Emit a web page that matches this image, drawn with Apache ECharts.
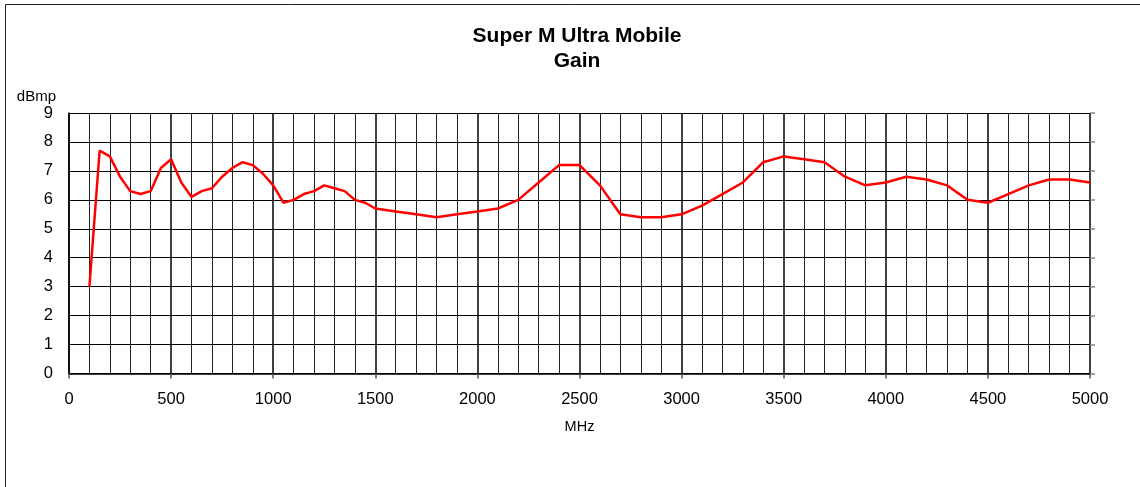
<!DOCTYPE html>
<html>
<head>
<meta charset="utf-8">
<script src="https://cdn.jsdelivr.net/npm/echarts@6/dist/echarts.min.js"></script>
<style>html,body{margin:0;padding:0;background:#fff}#c{width:1140px;height:487px}</style>
</head>
<body>
<div id="c"></div>
<script>
const titleText = 'Super M Ultra Mobile';
const subTitleText = 'Gain';
const xName = 'MHz';
const yName = 'dBmp';
const freqMHz = [100,150,200,250,300,350,400,450,500,550,600,650,700,750,800,850,900,950,1000,1050,1100,1150,1200,1250,1300,1350,1400,1450,1500,
  1600,1700,1800,1900,2000,2100,2200,2300,2400,2500,2600,2700,2800,2900,3000,3100,3200,3300,3400,3500,3600,3700,3800,3900,4000,4100,4200,4300,4400,4500,4600,4700,4800,4900,5000];
const gainDbmp = [3.0,7.7,7.5,6.8,6.3,6.2,6.3,7.1,7.4,6.6,6.1,6.3,6.4,6.8,7.1,7.3,7.2,6.9,6.5,5.9,6.0,6.2,6.3,6.5,6.4,6.3,6.0,5.9,5.7,
  5.6,5.5,5.4,5.5,5.6,5.7,6.0,6.6,7.2,7.2,6.5,5.5,5.4,5.4,5.5,5.8,6.2,6.6,7.3,7.5,7.4,7.3,6.8,6.5,6.6,6.8,6.7,6.5,6.0,5.9,6.2,6.5,6.7,6.7,6.6];

const chart = echarts.init(document.getElementById('c'), null, {renderer:'canvas'});
const font = '"Liberation Sans", Arial, sans-serif';
chart.setOption({
  animation: false,
  backgroundColor: '#fff',
  textStyle: {fontFamily: font},
  graphic: [{type:'rect', shape:{x:5.5,y:4.5,width:1200,height:600}, style:{fill:'none', stroke:'#222', lineWidth:1}, silent:true}],
  title: {
    text: titleText + '\n' + subTitleText,
    left: 572, top: 19, textAlign: 'center',
    textStyle: {fontFamily: font, fontSize: 21, fontWeight: 'bold', color: '#000', lineHeight: 25}
  },
  grid: {left: 69, right: 50, top: 113, bottom: 113.5, containLabel: false},
  xAxis: {
    type: 'value', min: 0, max: 5000, interval: 500,
    name: xName, nameLocation: 'middle', nameGap: 46,
    nameTextStyle: {fontFamily: font, fontSize: 14.5, color: '#000'},
    axisLine: {show: true, lineStyle: {color: '#000', width: 1.5}},
    axisTick: {show: true, inside: false, length: 5, lineStyle: {color: '#555', width: 1.5}},
    axisLabel: {fontFamily: font, fontSize: 16.5, color: '#000', margin: 17, formatter: v => String(v)},
    splitLine: {show: true, lineStyle: {color: '#000', width: 1.5}},
    minorTick: {show: false, splitNumber: 5},
    minorSplitLine: {show: true, lineStyle: {color: '#222', width: 1}}
  },
  yAxis: [{
    type: 'value', min: 0, max: 9, interval: 1,
    name: yName, nameLocation: 'end', nameGap: 7,
    nameTextStyle: {fontFamily: font, fontSize: 15, color: '#000', align: 'right', padding: [0, 13, 0, 0]},
    axisLine: {show: true, lineStyle: {color: '#000', width: 1.5}},
    axisTick: {show: false},
    axisLabel: {fontFamily: font, fontSize: 16.5, color: '#000', margin: 16},
    splitLine: {show: true, lineStyle: {color: '#000', width: 1}}
  }, {
    type: 'value', min: 0, max: 9, interval: 1, position: 'right',
    axisLine: {show: false},
    axisTick: {show: true, inside: false, length: 5, lineStyle: {color: '#888', width: 1.5}},
    axisLabel: {show: false},
    splitLine: {show: false}
  }],
  series: [{
    type: 'line',
    data: freqMHz.map((f, i) => [f, gainDbmp[i]]),
    showSymbol: false,
    lineStyle: {color: '#ff0000', width: 2.5},
    itemStyle: {color: '#ff0000'},
    z: 5
  }]
});
</script>
</body>
</html>
